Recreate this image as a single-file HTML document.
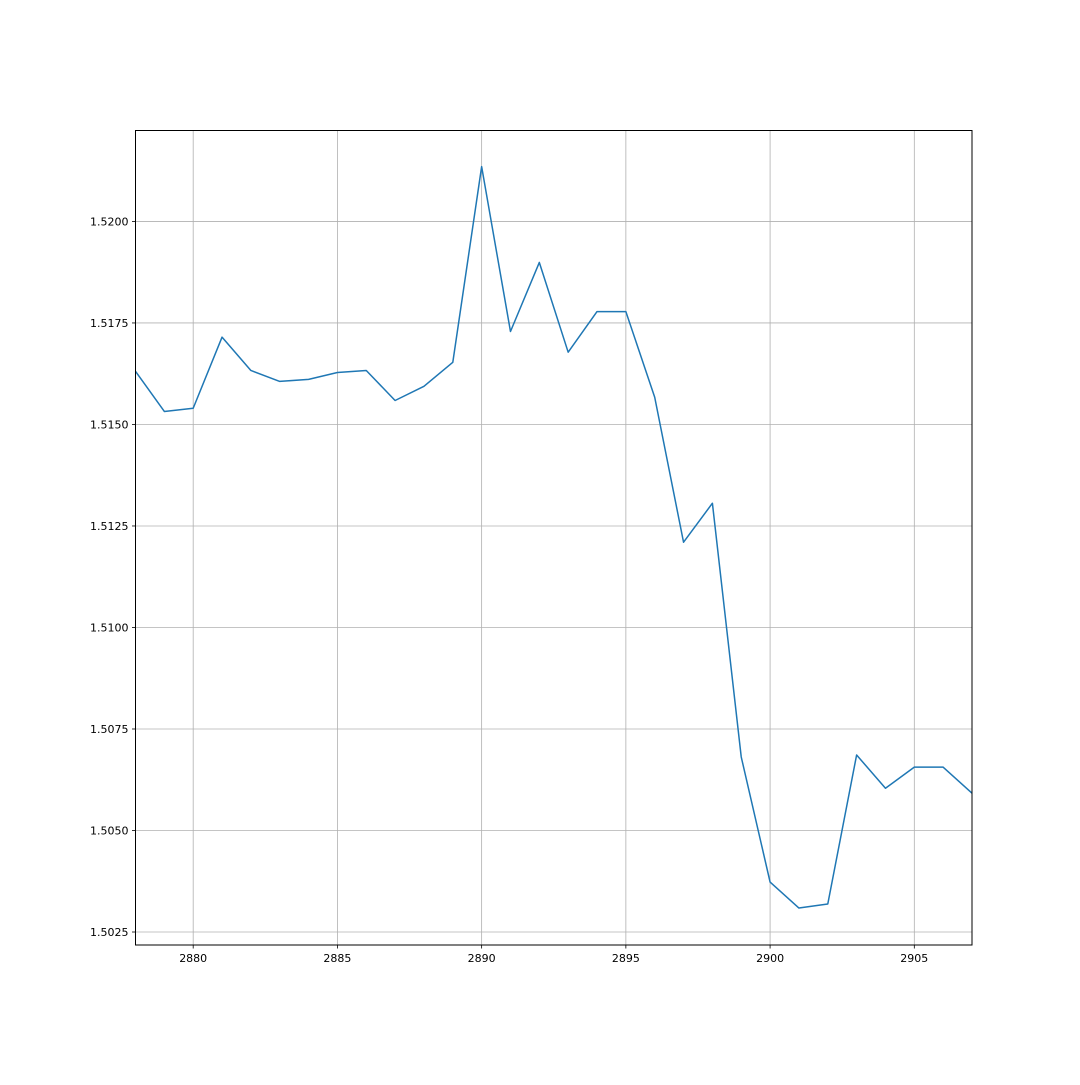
<!DOCTYPE html>
<html><head><meta charset="utf-8"><style>
html,body{margin:0;padding:0;background:#fff;}
svg text{font-family:"DejaVu Sans","Liberation Sans",sans-serif;font-size:11px;fill:#000;}
</style></head><body>
<svg id="chart" width="1080" height="1080" xmlns="http://www.w3.org/2000/svg">
<rect width="1080" height="1080" fill="#fff"/>
<g id="grid"></g>
<g id="ticks"></g>
<path id="line" fill="none" stroke="#1f77b4" stroke-width="1.5" stroke-linejoin="round"/>
<rect x="135.5" y="130.5" width="836.5" height="814.5" fill="none" stroke="#000" stroke-width="1"/>
</svg>
<script>
const xValues = [2878,2879,2880,2881,2882,2883,2884,2885,2886,2887,2888,2889,2890,2891,2892,2893,2894,2895,2896,2897,2898,2899,2900,2901,2902,2903,2904,2905,2906,2907];
const yValues = [1.51631,1.51532,1.51540,1.51715,1.51633,1.51606,1.51611,1.51628,1.51633,1.51559,1.51594,1.51653,1.52135,1.51729,1.51899,1.51678,1.51778,1.51778,1.51567,1.51210,1.51306,1.50681,1.50373,1.50309,1.50319,1.50686,1.50604,1.50656,1.50656,1.50592];
const xTicks = [2880,2885,2890,2895,2900,2905];
const yTicks = [1.5025,1.5050,1.5075,1.5100,1.5125,1.5150,1.5175,1.5200];
const X0=135.5,X1=972,Y0=130.5,Y1=945;
const xMin=2878,xMax=2907,yMin=1.50218,yMax=1.52224;
function sx(v){return X0+(v-xMin)/(xMax-xMin)*(X1-X0);}
function sy(v){return Y1-(v-yMin)/(yMax-yMin)*(Y1-Y0);}
const NS="http://www.w3.org/2000/svg";
const grid=document.getElementById('grid'), ticks=document.getElementById('ticks');
function mk(tag,attrs,parent){const e=document.createElementNS(NS,tag);for(const k in attrs)e.setAttribute(k,attrs[k]);parent.appendChild(e);return e;}
xTicks.forEach(t=>{
  const x=sx(t);
  const g=mk('line',{x1:x,x2:x,y1:Y0,y2:Y1,stroke:'#b0b0b0','stroke-width':0.8},grid);
  
  
  const tk=mk('line',{x1:x,x2:x,y1:Y1,y2:Y1+3.5,stroke:'#000','stroke-width':0.8},ticks);
  
  
  const tx=mk('text',{x:x,y:Y1+17,'text-anchor':'middle'},ticks);
  tx.textContent=t;
  
  
});
yTicks.forEach(t=>{
  const y=sy(t);
  const g=mk('line',{x1:X0,x2:X1,y1:y,y2:y,stroke:'#b0b0b0','stroke-width':0.8},grid);
  
  
  const tk=mk('line',{x1:X0-3.5,x2:X0,y1:y,y2:y,stroke:'#000','stroke-width':0.8},ticks);
  
  
  const tx=mk('text',{x:X0-7,y:y+4,'text-anchor':'end'},ticks);
  tx.textContent=t.toFixed(4);
  
  
});
document.getElementById('line').setAttribute('d',xValues.map((v,i)=>(i?'L':'M')+sx(v).toFixed(2)+','+sy(yValues[i]).toFixed(2)).join(' '));
</script>
</body></html>
